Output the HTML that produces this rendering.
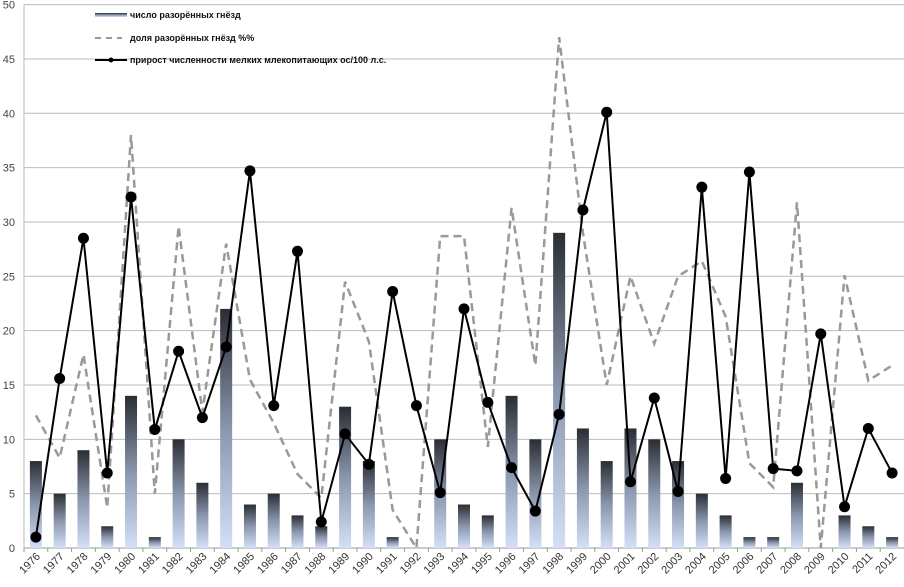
<!DOCTYPE html>
<html><head><meta charset="utf-8"><style>
body{margin:0;background:#fff;font-family:"Liberation Sans","DejaVu Sans",sans-serif}
</style></head><body>
<svg id="chart" width="904" height="582" xmlns="http://www.w3.org/2000/svg">
<defs><linearGradient id="bg" x1="0" y1="0" x2="0" y2="1"><stop offset="0" stop-color="#2a2d33"/><stop offset="0.5" stop-color="#8a96ad"/><stop offset="1" stop-color="#d3e0f7"/></linearGradient></defs>
<g id="grid"></g>
<g id="bars"></g>
<g id="lines"></g>
<g id="axes"></g>
<g font-size="9" font-weight="bold" fill="#111">
<rect x="95" y="13" width="32" height="4" fill="url(#bg)"/>
<text x="130" y="18">число разорённых гнёзд</text>
<line x1="95" y1="38" x2="122" y2="38" stroke="#999" stroke-width="2" stroke-dasharray="6,5"/>
<text x="130" y="41">доля разорённых гнёзд %%</text>
<line x1="95" y1="60" x2="127" y2="60" stroke="#000" stroke-width="2"/>
<circle cx="111" cy="60" r="2.5" fill="#000"/>
<text x="130" y="63">прирост численности мелких млекопитающих ос/100 л.с.</text>
</g>
</svg>
<script>
const years=[1976,1977,1978,1979,1980,1981,1982,1983,1984,1985,1986,1987,1988,1989,1990,1991,1992,1993,1994,1995,1996,1997,1998,1999,2000,2001,2002,2003,2004,2005,2006,2007,2008,2009,2010,2011,2012];
const nests=[8,5,9,2,14,1,10,6,22,4,5,3,2,13,8,1,0,10,4,3,14,10,29,11,8,11,10,8,5,3,1,1,6,0,3,2,1];
const share=[12.2,8.3,17.8,3.7,38,5,29.6,12.5,28,15.5,11.5,6.8,4.6,24.5,19,3.5,0,28.7,28.7,9.3,31.3,16.8,47,29,15,25,18.8,25,26.4,21.3,7.8,5.6,31.8,0,25.1,15.4,16.8];
const growth=[1,15.6,28.5,6.9,32.3,10.9,18.1,12,18.5,34.7,13.1,27.3,2.4,10.5,7.7,23.6,13.1,5.1,22,13.4,7.4,3.4,12.3,31.1,40.1,6.1,13.8,5.2,33.2,6.4,34.6,7.3,7.1,19.7,3.8,11,6.9];
const yTicks=[0,5,10,15,20,25,30,35,40,45,50];
const NS="http://www.w3.org/2000/svg";
const L=24,R=904,T=4.6,B=548,yMax=50;
const bw=(R-L)/years.length;
const x=i=>L+(i+0.5)*bw;
const y=v=>B-(v/yMax)*(B-T);
function mk(tag,at,parent){const e=document.createElementNS(NS,tag);for(const k in at)e.setAttribute(k,at[k]);document.getElementById(parent).appendChild(e);return e;}
yTicks.forEach(t=>{
 const g=mk('line',{x1:L,x2:R,y1:y(t),y2:y(t),stroke:t===0?'#999':'#bbb','stroke-width':1},'grid');
 
 
 const tx=mk('text',{x:15,y:y(t)+4,'text-anchor':'end','font-size':11,fill:'#444'},'axes');
 tx.textContent=t;
 
 
});
mk('line',{x1:L,x2:L,y1:T,y2:B,stroke:'#bbb'},'axes');
nests.forEach((v,i)=>{
 const r=mk('rect',{x:x(i)-6,y:y(v),width:12,height:B-y(v),fill:'url(#bg)'},'bars');
 
 
});
years.forEach((yr,i)=>{
 const tx=mk('text',{transform:`translate(${x(i)+5},${B+9}) rotate(-45)`,'text-anchor':'end','font-size':11,fill:'#333'},'axes');
 tx.textContent=yr;
 
 
 mk('line',{x1:L+i*bw,x2:L+i*bw,y1:B,y2:B+4,stroke:'#999'},'axes');
});
const dp=mk('polyline',{points:share.map((v,i)=>x(i)+','+y(v)).join(' '),fill:'none',stroke:'#999','stroke-width':2.5,'stroke-dasharray':'8,5'},'lines');


const gp=mk('polyline',{points:growth.map((v,i)=>x(i)+','+y(v)).join(' '),fill:'none',stroke:'#000','stroke-width':2},'lines');


growth.forEach((v,i)=>{
 const c=mk('circle',{cx:x(i),cy:y(v),r:5.5,fill:'#000'},'lines');
 
 
});
</script>
</body></html>
